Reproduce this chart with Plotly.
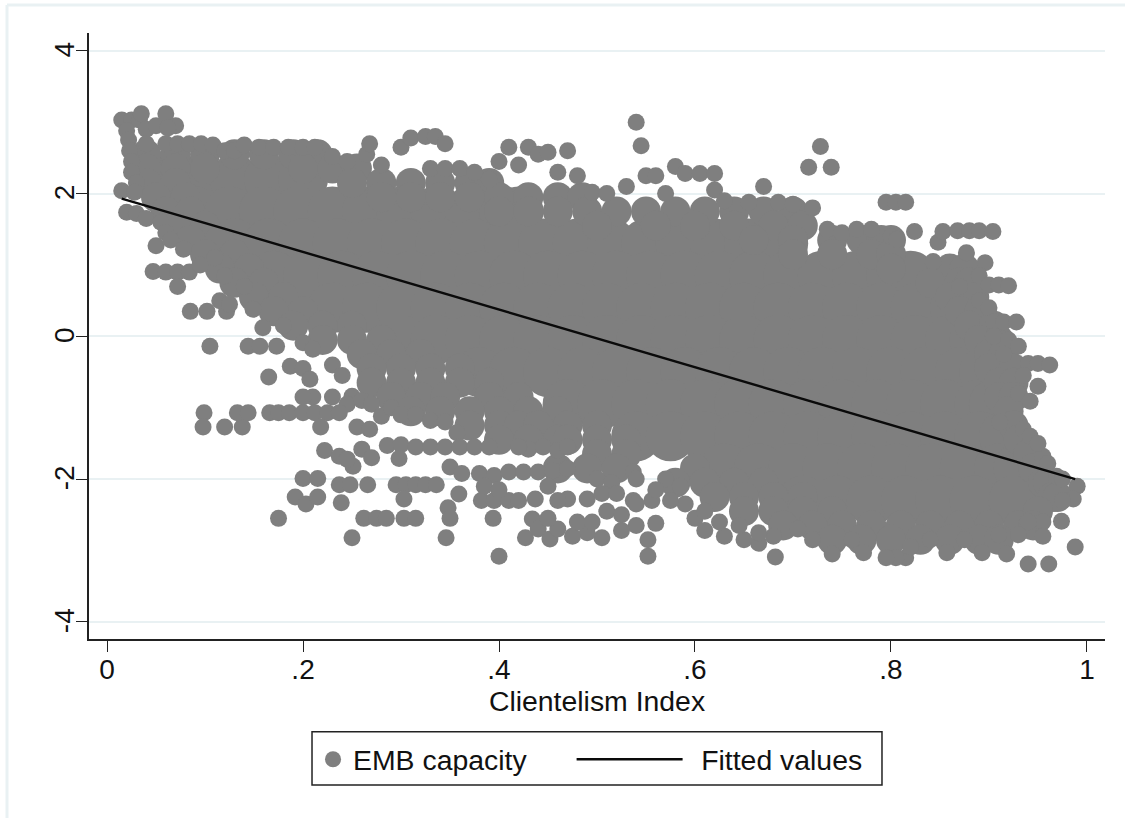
import plotly.graph_objects as go

# Fitted line
fit_x = [0.015, 0.988]
fit_y = [1.93, -2.0]

# Dense body of the cloud, read as rows (y level: x values)
core_levels = [2.2, 1.75, 1.3, 0.85, 0.4, -0.05, -0.5, -0.95, -1.4, -1.85, -2.3]
core_rows = [
    [.06,.095,.13,.165,.2],
    [.09,.125,.16,.195,.23,.265,.30,.335,.37,.405,.42],
    [.13,.165,.2,.235,.27,.305,.34,.375,.41,.445,.48,.515,.55,.585,.62,.655,.69],
    [.17,.205,.24,.275,.31,.345,.38,.415,.45,.485,.52,.555,.59,.625,.66,.695,.73,.765,.80,.82],
    [.23,.265,.3,.335,.37,.405,.44,.475,.51,.545,.58,.615,.65,.685,.72,.755,.79,.825,.865],
    [.30,.335,.37,.405,.44,.475,.51,.545,.58,.615,.65,.685,.72,.755,.79,.825,.86,.885],
    [.38,.415,.45,.485,.52,.555,.59,.625,.66,.695,.73,.765,.80,.835,.87,.895],
    [.47,.505,.54,.575,.61,.645,.68,.715,.75,.785,.82,.855,.89,.905],
    [.54,.575,.61,.645,.68,.715,.75,.785,.82,.855,.89,.915],
    [.63,.665,.70,.735,.77,.805,.84,.875,.91,.93],
    [.71,.745,.78,.815,.85,.885,.925],
]

# Edge band between the body and the silhouette
mid_levels = [2.55, 2.35, 2.15, 1.95, 1.75, 1.55, 1.35, 1.15, .95, .75, .55, .35, .15, -.05, -.25, -.45,
              -.65, -.85, -1.05, -1.25, -1.45, -1.65, -1.85, -2.05, -2.25, -2.45, -2.65, -2.85]
mid_rows = [
    [.04,.07,.1,.13,.16,.19,.215],
    [.04,.07,.1,.2,.23,.255],
    [.04,.07,.25,.28,.31,.34,.37,.39],
    [.05,.08,.28,.31,.34,.37,.4,.43,.46,.485],
    [.06,.085,.40,.43,.46,.49,.52,.55,.58,.61,.64,.67,.70],
    [.07,.1,.5,.56,.6,.64,.68,.71],
    [.085,.115,.66,.7,.74,.77,.8,.79],
    [.1,.13,.7,.74,.78,.8],
    [.115,.145,.8,.86,.875],
    [.13,.16,.84,.87,.88],
    [.15,.18,.86,.885],
    [.17,.2,.87,.89],
    [.19,.22,.25,.88,.905],
    [.22,.25,.28,.89,.91],
    [.26,.29,.32,.9,.915],
    [.27,.3,.33,.36,.9,.925],
    [.27,.3,.33,.36,.39,.91,.925],
    [.29,.32,.345,.39,.42,.91,.925],
    [.31,.34,.37,.4,.43,.46,.92],
    [.37,.4,.42,.44,.47,.5,.925],
    [.4,.43,.46,.47,.5,.53,.93],
    [.5,.53,.94],
    [.46,.49,.52,.6,.945],
    [.58,.61,.64,.67,.955,.96],
    [.62,.65,.68,.71,.965,.97],
    [.65,.68,.71,.74,.95],
    [.69,.72,.75,.78,.81,.84,.87,.9,.93,.945],
    [.74,.77,.8,.83,.86,.89,.91],
]

# Upper silhouette
upper_edge = [
 (.015,3.03),(.025,3.03),(.033,3.03),(.035,3.12),(.04,2.9),(.06,3.12),(.05,2.95),(.07,2.95),(.062,2.92),
 (.02,2.88),(.022,2.75),(.023,2.6),(.025,2.45),(.025,2.3),(.03,2.15),(.015,2.04),(.028,2.02),(.04,2.7),
 (.06,2.7),(.072,2.7),(.084,2.7),(.096,2.7),(.108,2.68),(.12,2.6),(.13,2.6),(.14,2.68),(.155,2.65),(.17,2.65),
 (.185,2.65),(.2,2.65),(.212,2.65),(.23,2.52),(.245,2.45),(.265,2.55),(.268,2.7),(.28,2.4),(.3,2.65),(.31,2.78),
 (.325,2.8),(.335,2.8),(.345,2.7),(.33,2.35),(.345,2.35),(.36,2.35),(.375,2.3),(.39,2.2),(.4,2.45),(.41,2.65),
 (.43,2.65),(.44,2.55),(.45,2.58),(.47,2.6),(.42,2.4),(.46,2.3),(.48,2.25),(.495,2.02),(.51,2.0),(.53,2.1),
 (.54,3.0),(.545,2.67),(.55,2.25),(.56,2.25),(.57,2.0),(.58,2.38),(.59,2.28),(.605,2.28),(.62,2.28),(.62,2.05),
 (.63,1.9),(.655,1.88),(.67,2.1),(.685,1.88),(.7,1.85),(.72,1.8),(.716,2.37),(.728,2.66),(.739,2.37),
 (.735,1.5),(.75,1.45),(.765,1.5),(.78,1.5),(.795,1.88),(.805,1.88),(.815,1.88),(.8,1.4),(.806,1.36),(.824,1.47),
 (.848,1.32),(.853,1.47),(.868,1.48),(.88,1.48),(.89,1.48),(.904,1.47),(.843,1.05),(.877,1.17),(.896,1.03),(.89,.85),(.9,.72),
 (.91,.72),(.92,.71),(.87,.7),(.89,.5),(.9,.4),(.905,.2),(.915,.2),(.928,.2),(.905,.0),(.92,-.05),(.93,-.14),
 (.915,-.25),(.94,-.38),(.95,-.38),(.962,-.4),(.935,-.55),(.95,-.7),(.93,-.8),(.942,-.91),
]

# Right and bottom silhouette
right_edge = [
 (.911,-1.2),(.935,-1.3),(.942,-1.4),(.955,-1.68),(.95,-1.5),(.96,-1.78),(.969,-1.96),(.975,-2.0),(.99,-2.1),(.986,-2.28),
 (.975,-2.3),(.974,-2.59),(.955,-2.6),(.94,-2.6),(.955,-2.8),(.93,-2.78),(.91,-2.78),(.988,-2.95),(.961,-3.19),
 (.94,-3.19),(.918,-3.05),(.893,-3.03),(.875,-2.85),(.857,-3.03),(.84,-2.85),(.815,-3.1),(.805,-3.1),(.795,-3.1),
 (.82,-2.95),(.772,-3.03),(.76,-2.85),(.74,-3.05),(.72,-2.85),(.705,-2.7),(.682,-3.09),(.665,-2.9),(.65,-2.85),
 (.68,-2.8),(.63,-2.8),(.61,-2.72),(.6,-2.55),(.59,-2.35),(.575,-2.3),(.552,-3.08),(.552,-2.85),(.56,-2.62),
 (.54,-2.65),(.525,-2.72),(.505,-2.82),(.49,-2.75),(.475,-2.8),(.48,-2.6),(.556,-2.3),(.537,-2.3),
 (.537,-1.9),(.57,-2.0),(.585,-2.1),(.5,-2.0),(.515,-2.05),(.54,-2.0),(.47,-2.28),
 (.495,-2.6),(.51,-2.45),(.525,-2.5),(.54,-2.35),(.49,-2.28),(.505,-2.2),(.52,-2.2),(.56,-2.15),
 (.61,-2.45),(.625,-2.6),(.645,-2.65),(.665,-2.75),
]

# Scattered points on the lower left
lower_left = [
 (.02,1.74),(.03,1.72),(.04,1.65),(.055,1.6),(.06,1.45),(.05,1.27),(.065,1.35),(.078,1.22),(.047,.91),(.06,.9),(.072,.9),(.084,.9),
 (.072,.7),(.095,1.0),(.11,1.1),(.12,.85),(.085,.35),(.102,.35),(.122,.35),(.115,.5),(.125,.45),(.105,-.14),
 (.14,.7),(.149,.38),(.159,.12),(.144,-.14),(.156,-.14),(.173,-.14),(.18,.15),(.165,-.57),(.187,-.42),(.2,-.45),
 (.2,-.09),(.21,-.18),(.207,-.6),(.21,-.85),(.2,-.85),(.23,-.4),(.24,-.55),(.25,-.84),(.23,-.85),(.245,-.95),(.26,-.9),(.27,-.95),
 (.28,-1.12),(.29,-1.0),(.3,-1.1),(.315,-1.1),(.33,-1.18),(.345,-1.2),(.357,-1.35),
 (.099,-1.07),(.098,-1.27),(.12,-1.27),(.138,-1.27),(.133,-1.07),(.144,-1.07),(.166,-1.07),(.175,-1.07),(.186,-1.07),
 (.2,-1.07),(.212,-1.07),(.225,-1.07),(.237,-1.07),(.218,-1.27),(.255,-1.27),(.268,-1.3),(.222,-1.6),(.237,-1.68),
 (.251,-1.82),(.26,-1.58),(.27,-1.7),(.245,-1.72),(.286,-1.53),(.3,-1.52),(.315,-1.55),(.33,-1.55),(.345,-1.55),
 (.36,-1.55),(.375,-1.55),(.39,-1.55),(.298,-1.71),(.2,-1.99),(.215,-1.99),(.237,-2.08),(.248,-2.08),(.266,-2.08),
 (.295,-2.08),(.305,-2.08),(.315,-2.08),(.325,-2.08),(.336,-2.08),(.303,-2.28),(.192,-2.25),(.203,-2.35),(.215,-2.25),
 (.239,-2.33),(.175,-2.55),(.262,-2.55),(.275,-2.55),(.285,-2.55),(.303,-2.55),(.315,-2.55),(.25,-2.82),(.346,-2.82),
 (.348,-2.4),(.35,-2.55),(.359,-2.21),(.35,-1.83),(.362,-1.92),(.38,-1.92),(.395,-1.95),(.41,-1.9),(.425,-1.9),(.44,-1.9),
 (.455,-1.88),(.47,-1.85),(.394,-2.55),(.4,-3.08),(.382,-2.3),(.395,-2.3),(.41,-2.3),(.42,-2.3),(.437,-2.28),(.385,-2.1),
 (.4,-2.15),(.427,-2.82),(.434,-2.56),(.44,-2.7),(.452,-2.84),(.46,-2.7),(.45,-2.55),(.43,-1.58),(.42,-1.55),(.445,-1.55),
 (.46,-1.6),(.47,-1.55),(.46,-2.3),(.45,-2.1),
]

core_points = [(x, y) for y, xs in zip(core_levels, core_rows) for x in xs]
mid_points = [(x, y) for y, xs in zip(mid_levels, mid_rows) for x in xs]
edge_points = upper_edge + right_edge + lower_left

grey = "#7f7f7f"
ink = "#222222"
pale = "#e9f1f3"
font = "Liberation Sans"

fig = go.Figure()
fig.add_trace(go.Scatter(
    x=[p[0] for p in core_points], y=[p[1] for p in core_points], mode="markers",
    marker=dict(color=grey, size=50, line=dict(width=0)),
    showlegend=False, hoverinfo="skip"))
fig.add_trace(go.Scatter(
    x=[p[0] for p in mid_points], y=[p[1] for p in mid_points], mode="markers",
    marker=dict(color=grey, size=30, line=dict(width=0)),
    showlegend=False, hoverinfo="skip"))
fig.add_trace(go.Scatter(
    x=[p[0] for p in edge_points], y=[p[1] for p in edge_points], mode="markers",
    name="EMB capacity", marker=dict(color=grey, size=17, line=dict(width=0)), legend="legend"))
fig.add_trace(go.Scatter(
    x=fit_x, y=fit_y, mode="lines", name="\u00a0\u2009Fitted values",
    line=dict(color="#0a0a0a", width=2.4), legend="legend2"))

fig.update_layout(
    width=1125, height=818, paper_bgcolor="white", plot_bgcolor="white",
    margin=dict(l=89, r=20, t=33, b=179, pad=0),
    font=dict(family=font, size=28, color="#111111"),
    xaxis=dict(range=[-0.0184, 1.0184], tickvals=[0, .2, .4, .6, .8, 1],
               ticktext=["0", ".2", ".4", ".6", ".8", "1"], showgrid=False, zeroline=False,
               showline=True, linecolor=ink, linewidth=1.5, ticks="outside", ticklen=11,
               tickwidth=1.2, tickcolor=ink, tickfont=dict(size=28), ticklabelstandoff=-6,
               title=dict(text="Clientelism Index", standoff=5, font=dict(size=28.4))),
    yaxis=dict(range=[-4.24, 4.25], tickvals=[-4, -2, 0, 2, 4],
               ticktext=["-4", "-2", "0", "2", "4"], tickangle=-90, showgrid=True, gridcolor=pale,
               gridwidth=2, zeroline=False, showline=True, linecolor=ink, linewidth=1.5,
               ticks="outside", ticklen=11, tickwidth=1.2, tickcolor=ink, tickfont=dict(size=28),
               ticklabelshift=3, ticklabelstandoff=-9),
    legend=dict(x=0.2205, y=-0.1985, xanchor="left", yanchor="middle", bgcolor="rgba(0,0,0,0)",
                itemwidth=30, font=dict(size=28.4)),
    legend2=dict(x=0.475, y=-0.1985, xanchor="left", yanchor="middle", bgcolor="rgba(0,0,0,0)",
                 itemwidth=106, font=dict(size=28.4)),
    shapes=[
        dict(type="rect", xref="paper", yref="paper", x0=0.2195, x1=0.7805, y0=-0.241, y1=-0.153,
             line=dict(color=ink, width=1.5), fillcolor="rgba(0,0,0,0)"),
        dict(type="line", xref="paper", yref="paper", x0=-0.0807, x1=-0.0807, y0=-0.3, y1=1.046,
             line=dict(color=pale, width=3)),
        dict(type="line", xref="paper", yref="paper", x0=-0.0807, x1=1.02, y0=1.046, y1=1.046,
             line=dict(color=pale, width=3)),
    ],
)
fig.write_html("out.html", config={"displayModeBar": False},
               post_script="document.body.style.margin='0';")
